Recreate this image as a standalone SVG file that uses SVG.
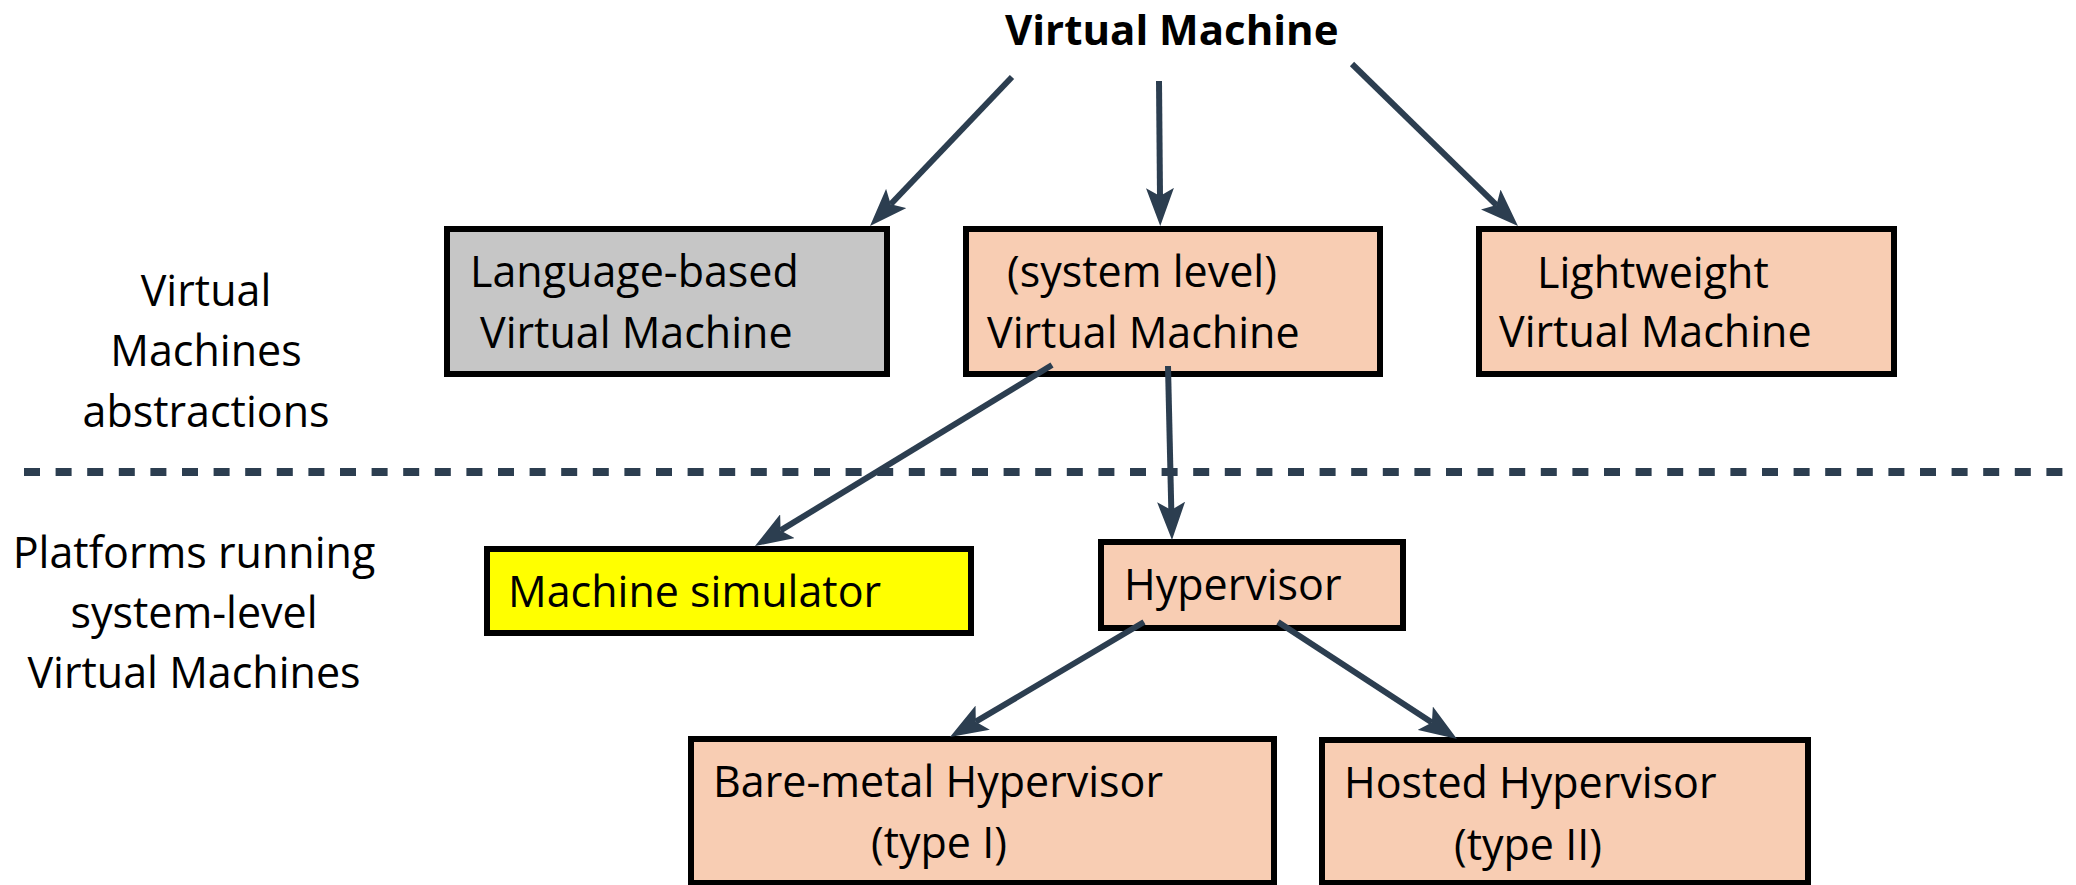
<svg xmlns="http://www.w3.org/2000/svg" width="2076" height="885" viewBox="0 0 2076 885">
<style>
text{font-family:"Open Sans","Noto Sans","Liberation Sans",sans-serif;font-size:43px;fill:#000}
.title{font-weight:bold;font-size:42px}
.box{stroke:#000;stroke-width:6}
.gray{fill:#c6c6c6}
.peach{fill:#f8cdb3}
.yellow{fill:#ffff00}
.conn{stroke:#2c3e50;stroke-width:6;fill:none;marker-end:url(#arr)}
.mid{text-anchor:middle}
</style>
<defs>
<marker id="arr" markerUnits="userSpaceOnUse" markerWidth="38" markerHeight="28" refX="8" refY="14" orient="auto" viewBox="0 0 38 28">
<path d="M0,0 L38,14 L0,28 L8,14 z" fill="#2c3e50"/>
</marker>
</defs>
<rect width="2076" height="885" fill="#fff"/>
<g id="title"><text class="title" x="1005" y="45">Virtual Machine</text></g>
<g id="label-abstractions">
<text class="mid" x="206" y="306">Virtual</text>
<text class="mid" x="206" y="366">Machines</text>
<text class="mid" x="206" y="427">abstractions</text>
</g>
<g id="label-platforms">
<text class="mid" x="194" y="568">Platforms running</text>
<text class="mid" x="194" y="628">system-level</text>
<text class="mid" x="194" y="688">Virtual Machines</text>
</g>
<g id="language-vm">
<rect class="box gray" x="447" y="229" width="440" height="145"/>
<text x="470" y="287">Language-based</text>
<text x="480" y="348">Virtual Machine</text>
</g>
<g id="system-vm">
<rect class="box peach" x="966" y="229" width="414" height="145"/>
<text x="1007" y="287">(system level)</text>
<text x="987" y="348">Virtual Machine</text>
</g>
<g id="lightweight-vm">
<rect class="box peach" x="1479" y="229" width="415" height="145"/>
<text x="1537" y="288">Lightweight</text>
<text x="1499" y="347">Virtual Machine</text>
</g>
<g id="machine-simulator">
<rect class="box yellow" x="487" y="549" width="484" height="84"/>
<text x="508" y="607">Machine simulator</text>
</g>
<g id="hypervisor">
<rect class="box peach" x="1101" y="542" width="302" height="86"/>
<text x="1124" y="600">Hypervisor</text>
</g>
<g id="bare-metal">
<rect class="box peach" x="691" y="739" width="583" height="144"/>
<text x="713" y="797">Bare-metal Hypervisor</text>
<text x="871" y="858">(type I)</text>
</g>
<g id="hosted">
<rect class="box peach" x="1322" y="740" width="486" height="143"/>
<text x="1344" y="798">Hosted Hypervisor</text>
<text x="1454" y="860">(type II)</text>
</g>
<g id="separator">
<line x1="24" y1="472" x2="2076" y2="472" stroke="#2c3e50" stroke-width="8" stroke-dasharray="16 15.6"/>
</g>
<g id="connectors">
<line class="conn" x1="1012" y1="77" x2="890.7" y2="204.3"/>
<line class="conn" x1="1159" y1="81" x2="1160" y2="196"/>
<line class="conn" x1="1352" y1="64" x2="1496.5" y2="205.1"/>
<line class="conn" x1="1052" y1="365" x2="780.6" y2="530.4"/>
<line class="conn" x1="1168" y1="366" x2="1171.3" y2="510"/>
<line class="conn" x1="1144" y1="622" x2="975.8" y2="721.7"/>
<line class="conn" x1="1278" y1="622" x2="1431.9" y2="722.6"/>
</g>
</svg>
